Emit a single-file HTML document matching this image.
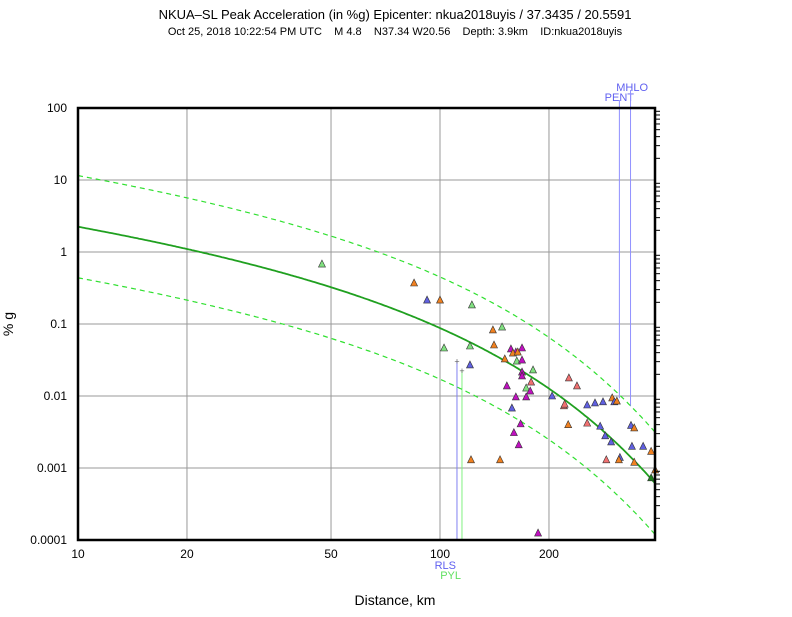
<!DOCTYPE html>
<html><head><meta charset="utf-8"><style>
body{margin:0;background:#fff;}
svg text{font-family:"Liberation Sans",sans-serif;}
</style></head><body>
<svg id="c" width="792" height="612" xmlns="http://www.w3.org/2000/svg">
<text x="395" y="19" font-size="13" text-anchor="middle">NKUA–SL Peak Acceleration (in %g) Epicenter: nkua2018uyis / 37.3435 / 20.5591</text>
<text x="395" y="35" font-size="11" text-anchor="middle" style="white-space:pre">Oct 25, 2018 10:22:54 PM UTC    M 4.8    N37.34 W20.56    Depth: 3.9km    ID:nkua2018uyis</text>
<text x="395" y="605" font-size="14" text-anchor="middle">Distance, km</text>
<text transform="translate(13,324) rotate(-90)" font-size="14" text-anchor="middle">% g</text>
<g id="grid"></g><g id="lines"></g><g id="marks"></g><g id="ticks"></g>
<rect x="78" y="108" width="577" height="432" fill="none" stroke="#000" stroke-width="2.5"/>
</svg>
<script>
const xTicks=[10,20,50,100,200];
const yTicks=[100,10,1,0.1,0.01,0.001,0.0001];
const yTickLabels=["100","10","1","0.1","0.01","0.001","0.0001"];
const dist=[47.2,84.8,92.1,100,122.5,102.6,121,121,140,148.4,141,157,162,159,164,168.5,151,163,168.5,168.5,168.5,180.7,178.5,227,239,153,173,177.5,162,173,204,158,220,221,255,268,282,299,303,308,226,255,277,286,297,314,339,364,383,344,312,167,160,165,146.5,288,393,383,337,344,186.6,121.8];
const pga=[0.681,0.371,0.215,0.215,0.184,0.0464,0.0495,0.0270,0.0826,0.0908,0.0511,0.045,0.0408,0.0395,0.0408,0.0464,0.0327,0.0306,0.0316,0.0215,0.019,0.023,0.0156,0.0178,0.0138,0.0138,0.0129,0.0117,0.0097,0.0097,0.01,0.0068,0.0073,0.0077,0.0075,0.0080,0.0083,0.0094,0.0083,0.0085,0.0040,0.0042,0.0038,0.0028,0.0023,0.0014,0.0020,0.0020,0.0017,0.0012,0.0013,0.0041,0.0031,0.0021,0.0013,0.0013,0.00094,0.00073,0.0039,0.0036,0.000125,0.0013];
const kind=["g","o","b","o","g","g","g","b","o","g","o","m","m","o","o","m","o","g","m","m","m","g","s","s","s","m","g","m","m","m","b","b","s","s","b","b","b","o","b","o","o","s","b","b","b","b","b","b","o","o","o","m","m","m","o","s","o","k","b","o","m","o"];
const stNames=["RLS","PYL","PENT","MHLO"];
const stDist=[111.4,115,313,336];
const stPga=[0.031,0.023,0.0093,0.0072];
const modelB=0.82, modelC=0.00496, modelD=0.141, modelAt10=0.351, sigmaDec=0.71;
const colors={g:"#80e080",o:"#f08020",b:"#6060e0",m:"#c010c0",s:"#f07070",k:"#208020"};
const X=d=>78+362*(Math.log10(d)-1);
const Y=p=>108+72*(2-Math.log10(p));
const NS="http://www.w3.org/2000/svg";
function mk(t,a,p){const e=document.createElementNS(NS,t);for(const k in a)e.setAttribute(k,a[k]);p.appendChild(e);return e;}
const grid=document.getElementById('grid'),ticks=document.getElementById('ticks'),lines=document.getElementById('lines'),marks=document.getElementById('marks');
xTicks.forEach(v=>{const l=mk('line',{x1:X(v),x2:X(v),y1:108,y2:540,stroke:'#999','stroke-width':1},grid);


const t=mk('text',{x:X(v),y:558,'font-size':12,'text-anchor':'middle'},ticks);t.textContent=v;

});
yTicks.forEach((v,i)=>{const l=mk('line',{x1:78,x2:655,y1:Y(v),y2:Y(v),stroke:'#999','stroke-width':1},grid);


const t=mk('text',{x:67,y:Y(v)+4,'font-size':12,'text-anchor':'end'},ticks);t.textContent=yTickLabels[i];


if(i<6)for(let k=2;k<10;k++){const yy=Y(v/10*k);const m=mk('line',{x1:655,x2:660,y1:yy,y2:yy,stroke:'#000'},ticks);

}});
stNames.forEach((n,i)=>{const x=X(stDist[i]);const c=(n=="PYL")?"#80f080":"#8080f0";const top=i>=2;
const l=mk('line',{x1:x,x2:x,y1:top?(n=="PENT"?100:90):540,y2:Y(stPga[i]),stroke:top?"#9090ff":c,'stroke-width':1},lines);


const t=mk('text',{x:top?(n=="PENT"?634:648):(n=="RLS"?456:461),y:top?(n=="PENT"?101:91):(n=="RLS"?569:579),'font-size':11,'text-anchor':'end',fill:c=="#80f080"?"#60e060":"#6060f0"},lines);t.textContent=n;


if(!top){const p=mk('text',{x:x,y:Y(stPga[i])+4,'font-size':9,'text-anchor':'middle',fill:'#666'},lines);p.textContent='+';

}});
function model(d){const L=Math.log10(d)-1;return modelAt10-modelB*L-modelC*(d-10)-modelD*L*L;}
[[0,"#20a020",1.8,""],[sigmaDec,"#30e030",1.2,"5,4"],[-sigmaDec,"#30e030",1.2,"5,4"]].forEach((c,j)=>{let s="";for(let d=10;d<=394;d*=1.01){s+=(s?"L":"M")+X(d).toFixed(1)+","+Y(Math.pow(10,model(d)+c[0])).toFixed(1);}
const p=mk('path',{d:s,fill:'none',stroke:c[1],'stroke-width':c[2],'stroke-dasharray':c[3]},lines);

});
dist.forEach((d,i)=>{const x=X(d),y=Y(pga[i]);const p=mk('polygon',{points:`${x},${y-4} ${x-3.5},${y+3} ${x+3.5},${y+3}`,fill:colors[kind[i]],stroke:'#333','stroke-width':0.6},marks);

});
</script>
</body></html>
